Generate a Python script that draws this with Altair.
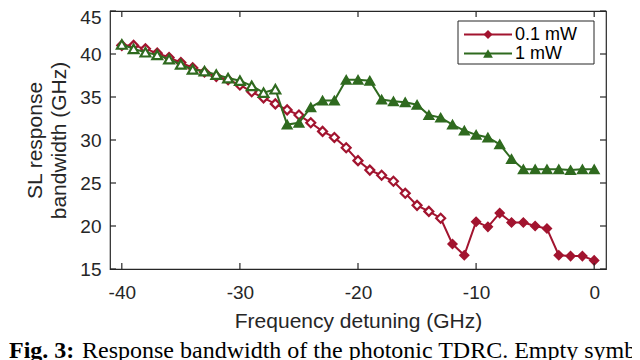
import altair as alt
import pandas as pd

# ---------------- data ----------------
detuning = list(range(-40, 1))  # GHz

series_names = ["0.1 mW", "1 mW"]

bw_01mW = [41.0, 41.0, 40.6, 40.1, 39.6, 39.0, 38.4, 37.9, 37.4, 37.0,
           36.4, 35.6, 34.9, 34.2, 33.5, 32.9, 32.0, 31.0, 30.3, 29.1,
           27.6, 26.5, 25.9, 25.2, 23.8, 22.4, 21.7, 20.9, 17.9, 16.6,
           20.5, 19.9, 21.5, 20.4, 20.4, 20.0, 19.7, 16.6, 16.5, 16.5,
           16.0]

bw_1mW = [41.1, 40.6, 40.2, 39.9, 39.4, 38.8, 38.2, 38.0, 37.6, 37.2,
          36.9, 36.3, 35.5, 35.9, 31.8, 32.0, 33.8, 34.6, 34.6, 37.0,
          37.0, 36.9, 34.7, 34.5, 34.4, 34.1, 32.9, 32.6, 31.8, 31.1,
          30.6, 30.3, 29.5, 27.8, 26.6, 26.6, 26.6, 26.6, 26.5, 26.6,
          26.6]

# last detuning drawn with an empty symbol, per series
empty_until = {"0.1 mW": -13, "1 mW": -27}

x_ticks = [-40, -30, -20, -10, 0]
y_ticks = [15, 20, 25, 30, 35, 40, 45]

caption_bold = "Fig. 3:"
caption_rest = "Response bandwidth of the photonic TDRC. Empty symbols"

# ---------------- styling ----------------
colors = {"0.1 mW": "#A2142F", "1 mW": "#2F6A1F"}
shapes = {"0.1 mW": "diamond", "1 mW": "triangle-up"}
sizes = {"0.1 mW": 80, "1 mW": 95}
AX = "#262626"
FONT = "Liberation Sans"
TOP = 3
W, H = 496, 258

rows = []
for name, vals in zip(series_names, [bw_01mW, bw_1mW]):
    for x, v in zip(detuning, vals):
        rows.append({"x": x, "bw": v, "series": name,
                     "filled": x > empty_until[name]})
df = pd.DataFrame(rows)

xscale = alt.Scale(domain=[-41, 1], nice=False, zero=False)
yscale = alt.Scale(domain=[15, 45], nice=False, zero=False)

xaxis = alt.Axis(values=x_ticks, ticks=False, domain=False, grid=False,
                 labelExpr="'' + datum.value",
                 labelFontSize=19, labelPadding=14, labelColor=AX,
                 labelFont=FONT, title="Frequency detuning (GHz)",
                 titleFont=FONT, titleFontSize=21, titleFontWeight="normal",
                 titleColor=AX, titlePadding=8)
yaxis = alt.Axis(values=y_ticks, ticks=False, domain=False, grid=False,
                 labelExpr="'' + datum.value",
                 labelOffset={"condition": {"test": "datum.value == 45", "value": 6},
                              "value": 0},
                 labelFontSize=19, labelPadding=9, labelColor=AX,
                 labelFont=FONT, title=["SL response", "bandwidth (GHz)"],
                 titleFont=FONT, titleFontSize=21, titleFontWeight="normal",
                 titleColor=AX, titlePadding=10, titleLineHeight=24)

X = alt.X("x:Q", scale=xscale, axis=xaxis)
Y = alt.Y("bw:Q", scale=yscale, axis=yaxis)

layers = []
for name in series_names:
    base = alt.Chart(df).transform_filter(alt.datum.series == name)
    layers.append(base.mark_line(color=colors[name], strokeWidth=2).encode(x=X, y=Y))
    layers.append(
        base.transform_filter("!datum.filled").mark_point(
            shape=shapes[name], size=sizes[name], filled=False,
            fill="white", fillOpacity=1, stroke=colors[name],
            strokeWidth=2.2, opacity=1).encode(x=X, y=Y))
    layers.append(
        base.transform_filter("datum.filled").mark_point(
            shape=shapes[name], size=sizes[name], filled=True,
            color=colors[name], stroke=colors[name], strokeWidth=1.5,
            opacity=1).encode(x=X, y=Y))

# inward ticks on all four sides
xt = pd.DataFrame({"x": x_ticks})
yt = pd.DataFrame({"bw": y_ticks})
TL = 6
tick_style = dict(color=AX, strokeWidth=1.2)
layers.append(alt.Chart(xt).mark_rule(**tick_style).encode(
    x=X, y=alt.value(H), y2=alt.value(H - TL)))
layers.append(alt.Chart(xt).mark_rule(**tick_style).encode(
    x=X, y=alt.value(0), y2=alt.value(TL)))
layers.append(alt.Chart(yt).mark_rule(**tick_style).encode(
    y=Y, x=alt.value(0), x2=alt.value(TL)))
layers.append(alt.Chart(yt).mark_rule(**tick_style).encode(
    y=Y, x=alt.value(W), x2=alt.value(W - TL)))

# legend box
one = pd.DataFrame({"a": [0]})
lx0, lx1, ly0, ly1 = 348, 484, 13 - TOP, 56 - TOP
layers.append(alt.Chart(one).mark_rect(fill="white", stroke=AX, strokeWidth=1).encode(
    x=alt.value(lx0), x2=alt.value(lx1), y=alt.value(ly0), y2=alt.value(ly1)))
for i, name in enumerate(series_names):
    yy = 26.5 - TOP + i * 19
    layers.append(alt.Chart(one).mark_rule(color=colors[name], strokeWidth=2).encode(
        x=alt.value(354), x2=alt.value(402), y=alt.value(yy)))
    layers.append(alt.Chart(one).mark_point(
        shape=shapes[name], size=sizes[name], filled=True, color=colors[name],
        opacity=1).encode(x=alt.value(378), y=alt.value(yy)))
    layers.append(alt.Chart(one).mark_text(
        align="left", baseline="middle", fontSize=18, font=FONT, color="black").encode(
        x=alt.value(405), y=alt.value(yy), text=alt.value(name)))

# caption (partly cut at the bottom of the picture)
cap_y = 350 - TOP
layers.append(alt.Chart(one).mark_text(
    align="left", baseline="alphabetic", fontSize=24, font="Liberation Serif",
    fontWeight="bold", color="black").encode(
    x=alt.value(-101), y=alt.value(cap_y), text=alt.value(caption_bold)))
layers.append(alt.Chart(one).mark_text(
    align="left", baseline="alphabetic", fontSize=24, font="Liberation Serif",
    color="black").encode(
    x=alt.value(-28), y=alt.value(cap_y), text=alt.value(caption_rest)))

chart = alt.layer(*layers).properties(
    width=W, height=H,
    autosize=alt.AutoSizeParams(type="none"),
    padding={"left": 102, "top": TOP, "right": 26, "bottom": 352 - TOP - H},
).configure_view(stroke=AX, strokeWidth=1.2)

chart.save("out.html", embed_options={"renderer": "svg", "actions": False})
